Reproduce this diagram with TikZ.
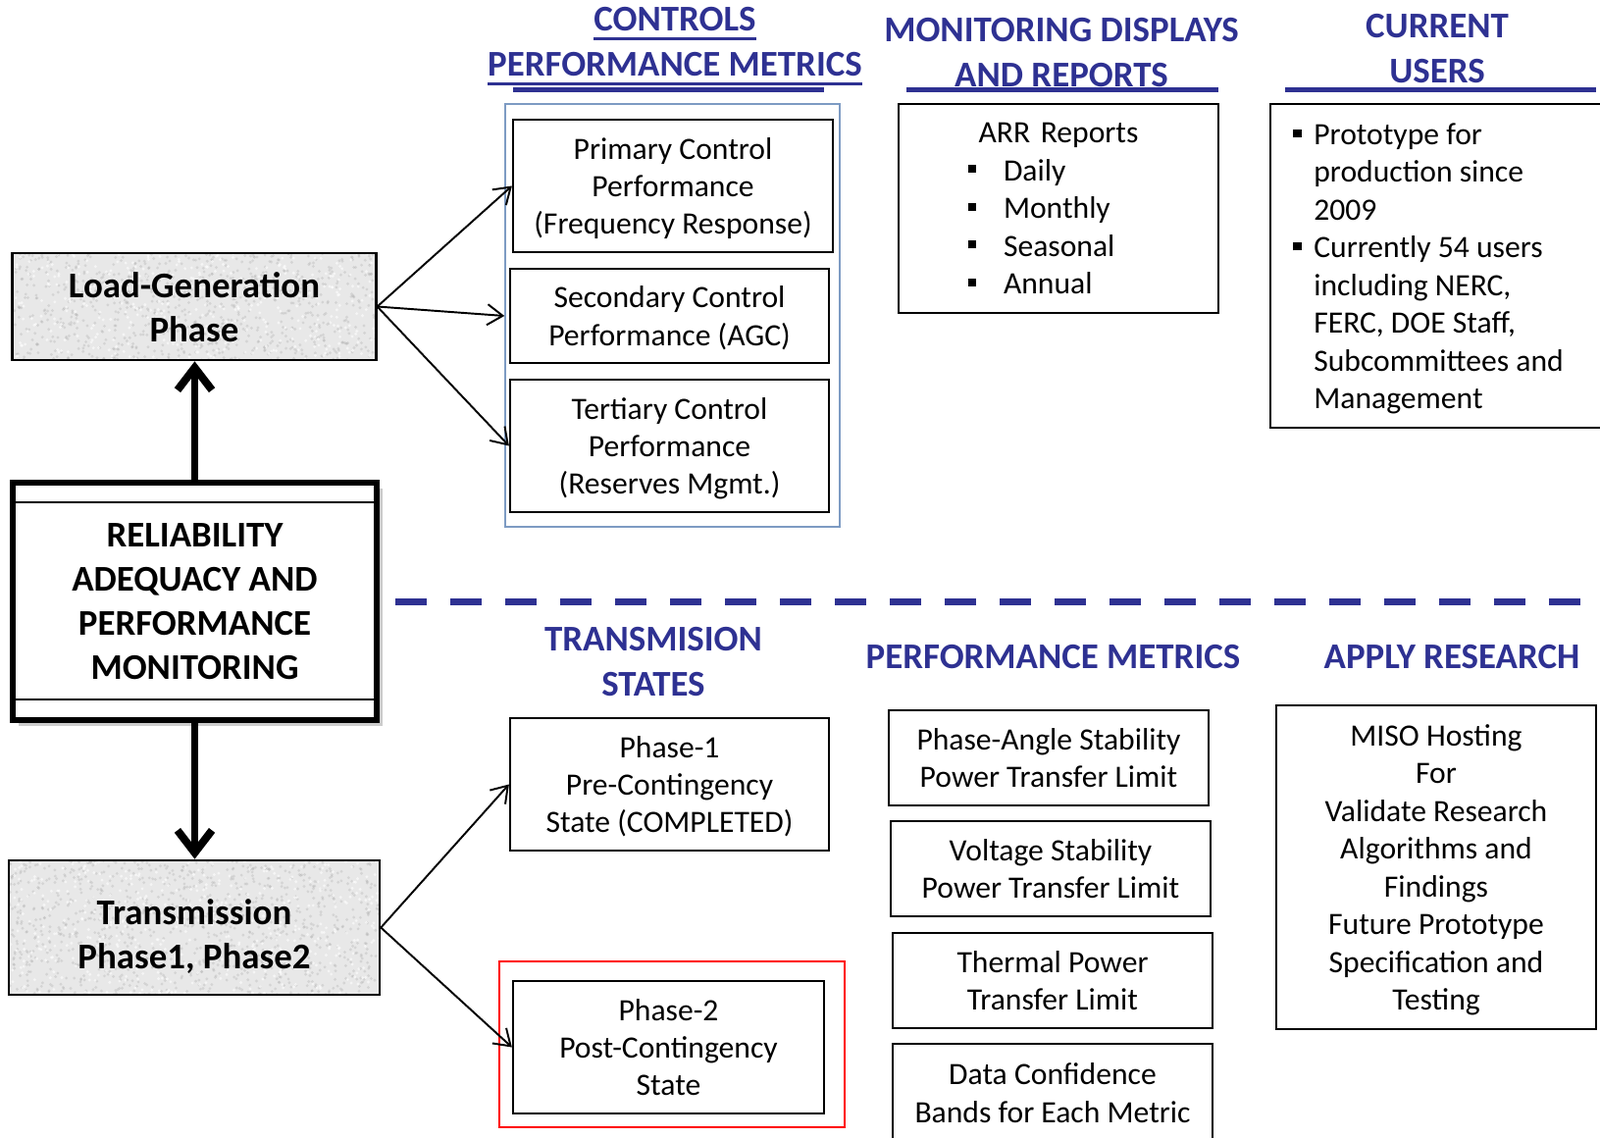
\documentclass[tikz,border=0pt]{standalone}
\usepackage{fontspec}
\setmainfont{Carlito}
\usepackage{xcolor}
\usepackage{tikz}
\usetikzlibrary{shapes,arrows,positioning,calc,arrows.meta,shadows}

\definecolor{headblue}{RGB}{46,49,146}
\definecolor{groupblue}{RGB}{125,155,195}
\definecolor{phasegray}{RGB}{232,232,232}
\newlength{\ulwidth}
\newcommand{\headuline}[1]{\settowidth{\ulwidth}{#1}\rlap{\rule[-5.5pt]{\ulwidth}{1.6pt}}#1}
\newcommand{\sqbullet}[1]{\makebox[#1][l]{\rule[4.3pt]{4.7pt}{4.7pt}}}

\begin{document}
\begin{tikzpicture}[x=0.02cm, y=-0.02cm,
        box/.style={draw, line width=1.3pt, rectangle, align=center, inner sep=0pt, text depth=0pt,
            font=\fontsize{18}{21.9}\selectfont},
        listbox/.style={draw, line width=1.3pt, rectangle, align=left, inner sep=0pt,
            font=\fontsize{18}{21.9}\selectfont},
        phasebox/.style={draw, line width=1.5pt, rectangle, fill=phasegray, align=center,
            font=\bfseries\fontsize{21}{25.6}\selectfont,
            path picture={
                \foreach \k in {1,...,1100}
                    \fill [black!35, opacity=0.3] ($(path picture bounding box.center)+(rand*192,rand*70)$) circle [radius=0.9pt];
                \foreach \k in {1,...,500}
                    \fill [white, opacity=0.6] ($(path picture bounding box.center)+(rand*192,rand*70)$) circle [radius=0.9pt];
            }},
        heading/.style={anchor=north, inner sep=0pt, align=center, text=headblue,
            font=\bfseries\fontsize{21}{25.9}\selectfont},
        headrule/.style={draw=headblue, line width=2.6pt},
        link/.style={->, line width=1.1pt},
        bigarrow/.style={-{Straight Barb[length=13pt,width=20pt]}, line width=4.5pt},
        >={Straight Barb[length=9pt,width=12pt]}
    ]
        \useasboundingbox (0,0) rectangle (1631,1159);

        % left column
        \node [phasebox, minimum width=7.41cm, minimum height=2.18cm] (loadgen) at (198,312.5) {\rule{0pt}{16pt}Load-Generation\\Phase};
        \node [draw, line width=3pt, outer sep=0pt, fill=white, align=center,
            drop shadow={shadow xshift=0.12cm, shadow yshift=-0.12cm, fill=black!40},
            minimum width=7.42cm, minimum height=4.84cm,
            font=\bfseries\fontsize{21}{25.6}\selectfont] (rel) at (198.5,613)
            {RELIABILITY\\ADEQUACY AND\\PERFORMANCE\\MONITORING};
        \draw [line width=1.2pt] ($(rel.north west)+(0,20)$) -- ($(rel.north east)+(0,20)$);
        \draw [line width=1.2pt] ($(rel.south west)+(0,-21)$) -- ($(rel.south east)+(0,-21)$);
        \node [phasebox, minimum width=7.56cm, minimum height=2.74cm] (trans) at (198,945.5) {\rule{0pt}{25.5pt}Transmission\\Phase1, Phase2};

        \draw [bigarrow] (rel.north) -- (rel.north |- loadgen.south);
        \draw [bigarrow] (rel.south) -- (rel.south |- trans.north);

        % headings, upper half
        \node [heading] (ctrlhead) at (688,7) {\headuline{CONTROLS}\\\headuline{PERFORMANCE METRICS}};
        \node [heading] (disphead) at (1082,18) {MONITORING DISPLAYS\\AND REPORTS};
        \node [heading] (userhead) at (1465,14) {CURRENT\\USERS};
        \draw [headrule] (523,91.5) -- (840,91.5);
        \draw [headrule] (924,91.5) -- (1242,91.5);
        \draw [headrule] (1310,91.5) -- (1627,91.5);

        % controls performance metrics
        \node [draw=groupblue, line width=0.9pt, minimum width=6.82cm, minimum height=8.62cm] (ctrlgroup) at (685.5,321.5) {};
        \node [box, minimum width=6.52cm, minimum height=2.70cm] (primary) at (686,189.5) {Primary Control\\Performance\\(Frequency Response)};
        \node [box, minimum width=6.50cm, minimum height=1.92cm] (secondary) at (682.5,322) {Secondary Control\\Performance (AGC)};
        \node [box, minimum width=6.50cm, minimum height=2.70cm] (tertiary) at (682.5,454.5) {Tertiary Control\\Performance\\(Reserves Mgmt.)};

        \draw [link] (loadgen.east) -- (primary.west);
        \draw [link] (loadgen.east) -- (ctrlgroup.west |- secondary.west);
        \draw [link] (loadgen.east) -- (tertiary.west);

        % displays and users
        \node [listbox, minimum width=6.52cm, minimum height=4.26cm, text width=3.68cm] (arr) at (1079,212.5)
            {\makebox[3.68cm]{ARR Reports}\\\sqbullet{0.72cm}Daily\\\sqbullet{0.72cm}Monthly\\\sqbullet{0.72cm}Seasonal\\\sqbullet{0.72cm}Annual};
        \node [box, minimum width=7.00cm, minimum height=6.60cm] (users) at (1470,271) {};
        \node [anchor=west, inner sep=0pt, align=left, font=\fontsize{18}{21.9}\selectfont] (usertext) at (1318,274)
            {\sqbullet{0.42cm}Prototype for\\\hspace*{0.42cm}production since\\\hspace*{0.42cm}2009\\
             \sqbullet{0.42cm}Currently 54 users\\\hspace*{0.42cm}including NERC,\\\hspace*{0.42cm}FERC, DOE Staff,\\
             \hspace*{0.42cm}Subcommittees and\\\hspace*{0.42cm}Management};

        % separator
        \coordinate (sepstart) at (403,613);
        \coordinate (sepend) at (1612,613);
        \draw [headblue, line width=0.14cm, dash pattern=on 0.64cm off 0.48cm] (sepstart) -- (sepend);

        % headings, lower half
        \node [heading] (statehead) at (666,639) {TRANSMISION\\STATES};
        \node [heading] (metrichead) at (1073.5,657) {PERFORMANCE METRICS};
        \node [heading] (researchhead) at (1480,657) {APPLY RESEARCH};

        % transmission states
        \node [box, minimum width=6.50cm, minimum height=2.70cm] (phaseone) at (682.5,799.5) {Phase-1\\Pre-Contingency\\State (COMPLETED)};
        \node [draw=red, line width=1.1pt, minimum width=7.04cm, minimum height=3.38cm] (phasetwoframe) at (685,1064.5) {};
        \node [box, minimum width=6.34cm, minimum height=2.70cm] (phasetwo) at (681.5,1067.5) {Phase-2\\Post-Contingency\\State};

        \draw [link] (trans.east) -- (phaseone.west);
        \draw [link] (trans.east) -- (phasetwo.west);

        % performance metrics
        \node [box, minimum width=6.52cm, minimum height=1.94cm] (angle) at (1069,772.5) {Phase-Angle Stability\\Power Transfer Limit};
        \node [box, minimum width=6.52cm, minimum height=1.94cm] (voltage) at (1071,885.5) {Voltage Stability\\Power Transfer Limit};
        \node [box, minimum width=6.52cm, minimum height=1.94cm] (thermal) at (1073,999.5) {Thermal Power\\Transfer Limit};
        \node [box, minimum width=6.52cm, minimum height=2.00cm] (confidence) at (1073,1114) {Data Confidence\\Bands for Each Metric};

        % research
        \node [box, minimum width=6.52cm, minimum height=6.60cm] (miso) at (1464,884)
            {MISO Hosting\\For\\Validate Research\\Algorithms and\\Findings\\Future Prototype\\Specification and\\Testing};
    \end{tikzpicture}
\end{document}
